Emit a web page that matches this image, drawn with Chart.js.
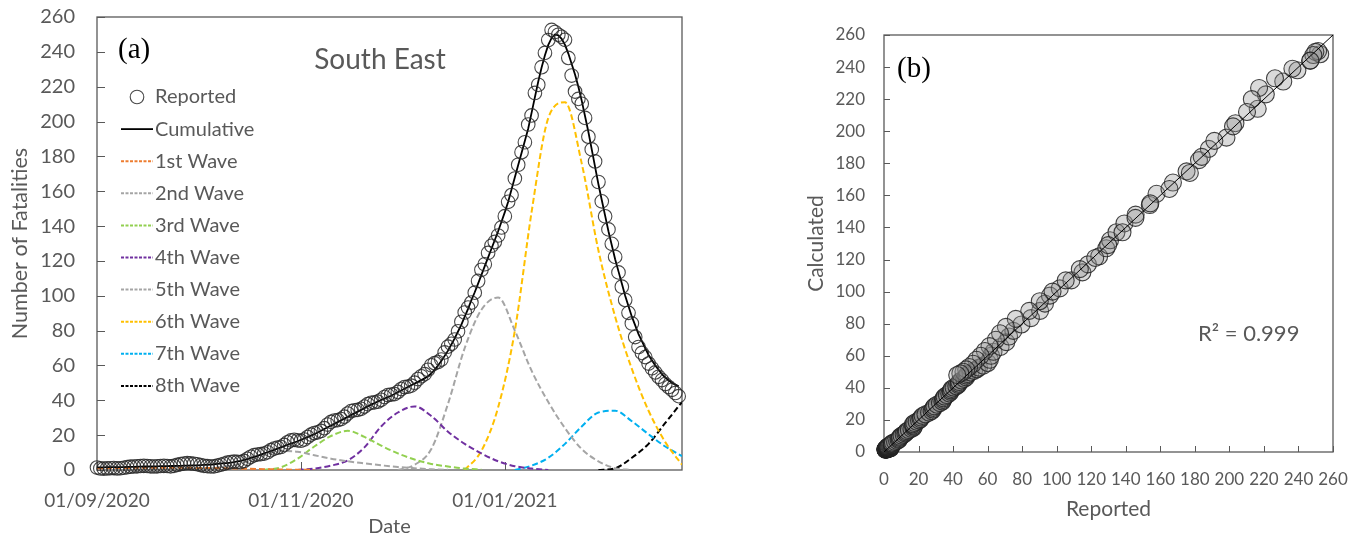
<!DOCTYPE html>
<html>
<head>
<meta charset="utf-8">
<script src="https://cdn.jsdelivr.net/npm/chart.js@4.4.1/dist/chart.umd.min.js"></script>
<style>
  html, body { margin: 0; padding: 0; background: #fff; }
  #wrapA { position: absolute; left: 0; top: 0; }
  #wrapB { position: absolute; left: 770px; top: 0; }
</style>
</head>
<body>
<div id="wrapA"><canvas id="fitChart" width="700" height="540"></canvas></div>
<div id="wrapB"><canvas id="corrChart" width="592" height="540"></canvas></div>
<script>
// x axis of (a): days since 01/09/2020
const dateTickDays = [0, 61, 122]
const dateTickLabels = ["01/09/2020", "01/11/2020", "01/01/2021"]

// daily reported fatalities (one value per day from 01/09/2020)
const reported = [
  1.4, 0.9, 0.8, 0.9, 1.0, 1.1, 0.9, 1.0, 1.3, 1.6,
  1.9, 2.0, 2.1, 2.3, 2.4, 2.3, 2.1, 2.0, 2.1, 2.3,
  2.4, 2.3, 2.1, 2.4, 2.9, 3.4, 3.7, 3.9, 3.8, 3.6,
  3.3, 2.8, 2.4, 2.2, 2.0, 2.1, 2.5, 3.0, 3.6, 4.2,
  4.6, 4.8, 4.7, 4.6, 5.2, 6.4, 7.6, 8.5, 8.9, 9.1,
  9.4, 10.2, 11.4, 12.3, 12.8, 13.2, 14.4, 15.9, 17.0, 17.3,
  17.0, 16.8, 17.5, 18.9, 20.3, 21.2, 21.6, 22.4, 24.0, 26.1,
  27.6, 28.4, 28.6, 29.2, 30.6, 32.4, 33.8, 34.3, 34.5, 35.1,
  36.4, 37.8, 38.6, 38.8, 39.2, 40.3, 41.9, 43.0, 43.3, 43.6,
  44.8, 46.5, 47.6, 47.8, 48.4, 50.1, 52.2, 53.8, 55.0, 57.5,
  60.1, 61.3, 62.0, 63.4, 67.5, 70.8, 72.4, 74.9, 79.6, 85.1,
  90.4, 93.2, 96.1, 101.8, 108.5, 114.9, 118.1, 124.6, 128.7, 130.9,
  134.6, 139.2, 145.7, 153.9, 157.8, 167.3, 175.2, 182.4, 188.1, 198.3,
  203.5, 216.4, 221.1, 231.2, 239.4, 246.8, 252.6, 251.4, 249.8, 248.6,
  246.9, 236.5, 226.4, 217.2, 213.0, 210.2, 202.1, 191.3, 184.0, 177.1,
  165.3, 154.2, 145.6, 138.1, 129.8, 122.3, 113.4, 105.2, 97.6, 90.2,
  84.1, 76.3, 70.6, 67.2, 64.8, 61.1, 58.4, 56.0, 53.5, 51.6,
  49.3, 47.6, 46.0, 44.2, 42.4,
]

// model total (sum of waves), same days
const cumulative = [
  1.5, 1.5, 1.5, 1.6, 1.6, 1.6, 1.7, 1.7, 1.7, 1.8,
  1.8, 1.8, 1.9, 1.9, 2.0, 2.0, 2.0, 2.1, 2.1, 2.2,
  2.2, 2.2, 2.3, 2.3, 2.4, 2.4, 2.5, 2.5, 2.6, 2.6,
  2.7, 2.8, 2.9, 3.0, 3.1, 3.3, 3.5, 3.7, 3.9, 4.0,
  4.2, 4.5, 4.9, 5.3, 5.8, 6.3, 6.9, 7.5, 8.1, 8.8,
  9.5, 10.2, 10.9, 11.6, 12.3, 13.0, 13.7, 14.4, 15.1, 15.8,
  16.5, 17.3, 18.1, 18.9, 19.7, 20.5, 21.5, 22.5, 23.5, 24.5,
  25.5, 26.5, 27.5, 28.5, 29.5, 30.5, 31.5, 32.5, 33.5, 34.5,
  35.5, 36.5, 37.5, 38.4, 39.3, 40.2, 41.0, 41.8, 42.6, 43.6,
  44.6, 45.6, 46.6, 47.6, 48.6, 49.6, 50.6, 51.6, 52.6, 53.8,
  55.5, 57.5, 60.0, 62.5, 65.5, 68.5, 72.0, 75.5, 79.5, 83.5,
  88.0, 92.5, 97.5, 102.0, 107.0, 112.0, 117.0, 122.0, 127.0, 132.0,
  137.0, 142.5, 148.0, 154.0, 161.0, 168.0, 175.0, 182.0, 189.0, 196.0,
  205.0, 214.0, 223.0, 231.0, 238.0, 244.0, 248.0, 250.0, 249.5, 247.5,
  244.0, 239.0, 233.0, 227.0, 220.0, 212.0, 203.0, 194.0, 184.0, 174.0,
  164.0, 155.0, 146.0, 137.0, 129.0, 121.0, 114.0, 107.0, 100.0, 94.0,
  88.0, 83.0, 78.0, 74.0, 70.0, 66.0, 63.0, 60.0, 57.5, 55.0,
  53.0, 51.5, 50.0, 49.0, 48.0,
]

// individual waves, sampled every 5 days from their start day
const waveStep = 5
const wave1Start = 0
const wave1 = [1.0, 1.1, 1.2, 1.3, 1.3, 1.3, 1.2, 1.1, 0.9, 0.7, 0.5, 0.3, 0.15, 0.05]
const wave2Start = 25
const wave2 = [0.3, 0.6, 1.2, 2.5, 5, 8.5, 11, 10.5, 8.5, 6.5, 5, 3.8, 2.7, 1.7, 1, 0.4, 0.1]
const wave3Start = 50
const wave3 = [0, 1.5, 6.5, 13.5, 19.5, 22.5, 19, 14, 9.5, 6, 3.5, 2, 0.8, 0.2]
const wave4Start = 60
const wave4 = [0, 0.8, 2.5, 5.5, 13, 25, 33, 36.5, 31, 22, 15, 9.5, 5, 2.2, 0.8, 0]
const wave5Start = 90
const wave5 = [0, 3, 12, 38, 70, 92, 99, 80, 57, 39, 24, 12, 5, 1, 0]
const wave6Start = 110
const wave6 = [0, 11, 36, 80, 148, 202, 211, 176, 126, 88, 58, 34, 16, 3]
const wave7Start = 125
const wave7 = [0, 2.5, 7, 15, 25, 33, 34, 28, 20.5, 13.5, 8]
const wave8Start = 150
const wave8 = [0, 1, 7, 15, 27, 39]

// (b) reference line y = x
const fitLine = [0, 260]

const FONT = "Lato, 'Open Sans', sans-serif"
const INK = "#595959"

// box round the plot + small ticks pointing inwards
const framePlugin = (tick) => ({
  id: "frame",
  beforeDatasetsDraw(chart) {
    const { ctx, chartArea: a, scales } = chart
    ctx.save()
    ctx.strokeStyle = INK
    ctx.lineWidth = 1.3
    ctx.strokeRect(a.left, a.top, a.right - a.left, a.bottom - a.top)
    ctx.lineWidth = 1
    ctx.beginPath()
    scales.y.ticks.forEach((t) => {
      const y = Math.round(scales.y.getPixelForValue(t.value)) + 0.5
      ctx.moveTo(a.left, y)
      ctx.lineTo(a.left + tick, y)
    })
    scales.x.ticks.forEach((t) => {
      const x = Math.round(scales.x.getPixelForValue(t.value)) + 0.5
      ctx.moveTo(x, a.bottom)
      ctx.lineTo(x, a.bottom - tick)
    })
    ctx.stroke()
    ctx.restore()
  },
})

// free text inside the plot area
const notesPlugin = (items) => ({
  id: "notes",
  afterDraw(chart) {
    const { ctx, chartArea: a } = chart
    ctx.save()
    ctx.textBaseline = "middle"
    items.forEach((n) => {
      ctx.font = n.font
      ctx.fillStyle = n.color
      ctx.textAlign = n.align || "left"
      ctx.fillText(n.text, a.left + n.dx, a.top + n.dy)
    })
    ctx.restore()
  },
})

// legend drawn inside the plot, using each dataset's own style
const insetLegend = (pos) => ({
  id: "insetLegend",
  afterDraw(chart) {
    const { ctx, chartArea: a } = chart
    ctx.save()
    ctx.font = "20px " + FONT
    ctx.textBaseline = "middle"
    chart.data.datasets.forEach((ds, i) => {
      const y = a.top + pos.top + i * pos.row
      const x0 = a.left + pos.left
      ctx.strokeStyle = ds.borderColor
      if (ds.showLine === false) {
        ctx.lineWidth = ds.pointBorderWidth
        ctx.setLineDash([])
        ctx.beginPath()
        ctx.arc(x0 + pos.len / 2, y, ds.pointRadius, 0, Math.PI * 2)
        ctx.stroke()
      } else {
        ctx.lineWidth = ds.borderWidth
        ctx.setLineDash(ds.borderDash ? [3, 1.5] : [])
        ctx.beginPath()
        ctx.moveTo(x0, y)
        ctx.lineTo(x0 + pos.len, y)
        ctx.stroke()
      }
      ctx.setLineDash([])
      ctx.fillStyle = INK
      ctx.fillText(ds.label, x0 + pos.len + 2, y)
    })
    ctx.restore()
  },
})

document.addEventListener("DOMContentLoaded", () => {
  Chart.defaults.font.family = FONT
  Chart.defaults.color = INK

  const waves = [
    { label: "1st Wave", start: wave1Start, values: wave1, color: "#ED7D31" },
    { label: "2nd Wave", start: wave2Start, values: wave2, color: "#A5A5A5" },
    { label: "3rd Wave", start: wave3Start, values: wave3, color: "#92D050" },
    { label: "4th Wave", start: wave4Start, values: wave4, color: "#7030A0" },
    { label: "5th Wave", start: wave5Start, values: wave5, color: "#A5A5A5" },
    { label: "6th Wave", start: wave6Start, values: wave6, color: "#FFC000" },
    { label: "7th Wave", start: wave7Start, values: wave7, color: "#00B0F0" },
    { label: "8th Wave", start: wave8Start, values: wave8, color: "#000000" },
  ]

  // (a) fit of daily fatalities
  new Chart(document.getElementById("fitChart"), {
    type: "line",
    data: {
      datasets: [
        {
          label: "Reported",
          data: reported.map((v, i) => ({ x: i, y: v })),
          showLine: false,
          borderColor: "rgba(40, 40, 40, 0.85)",
          backgroundColor: "rgba(0, 0, 0, 0)",
          pointBackgroundColor: "rgba(0, 0, 0, 0)",
          pointRadius: 6.8,
          pointBorderWidth: 1.1,
          clip: false,
        },
        {
          label: "Cumulative",
          data: cumulative.map((v, i) => ({ x: i, y: v })),
          borderColor: "#000000",
          borderWidth: 1.8,
          pointRadius: 0,
        },
        ...waves.map((w) => ({
          label: w.label,
          data: w.values.map((v, k) => ({ x: w.start + waveStep * k, y: v })),
          borderColor: w.color,
          borderWidth: 2,
          borderDash: [6, 3],
          pointRadius: 0,
          cubicInterpolationMode: "monotone",
        })),
      ],
    },
    options: {
      responsive: false,
      animation: false,
      devicePixelRatio: 1,
      layout: { padding: { top: 17, right: 18, left: 0, bottom: 0 } },
      plugins: { legend: { display: false }, tooltip: { enabled: false } },
      scales: {
        x: {
          type: "linear",
          min: 0,
          max: 175,
          afterBuildTicks: (s) => {
            s.ticks = dateTickDays.map((v) => ({ value: v }))
          },
          ticks: {
            callback: (v) => dateTickLabels[dateTickDays.indexOf(v)],
            font: { size: 19 },
            padding: 4,
            maxRotation: 0,
            autoSkip: false,
          },
          grid: { display: false, drawTicks: true, tickLength: 15 },
          border: { display: false },
          title: { display: true, text: "Date", font: { size: 20 }, padding: { top: 0, bottom: 1 } },
          afterFit: (s) => {
            s.height = 70
          },
        },
        y: {
          min: 0,
          max: 260,
          ticks: { stepSize: 20, font: { size: 20 }, padding: 4 },
          grid: { display: false, drawTicks: true, tickLength: 18 },
          border: { display: false },
          title: { display: true, text: "Number of Fatalities", font: { size: 21.5 }, padding: { top: 7, bottom: 0 } },
          afterFit: (s) => {
            s.width = 97
          },
        },
      },
    },
    plugins: [
      framePlugin(8),
      insetLegend({ left: 24, top: 80, row: 32.1, len: 32 }),
      notesPlugin([
        { text: "(a)", dx: 21, dy: 33, font: "29px 'Liberation Serif', 'Times New Roman', serif", color: "#000000" },
        { text: "South East", dx: 283, dy: 43, font: "28px " + FONT, color: INK, align: "center" },
      ]),
    ],
  })

  // (b) calculated against reported
  new Chart(document.getElementById("corrChart"), {
    type: "scatter",
    data: {
      datasets: [
        {
          type: "line",
          label: "y = x",
          data: fitLine.map((v) => ({ x: v, y: v })),
          borderColor: "#000000",
          borderWidth: 1,
          pointRadius: 0,
        },
        {
          label: "Calculated",
          data: reported.map((v, i) => ({ x: v, y: cumulative[i] })),
          backgroundColor: "rgba(140, 140, 140, 0.32)",
          borderColor: "rgba(35, 35, 35, 0.85)",
          borderWidth: 1.1,
          pointRadius: 8.5,
          clip: false,
        },
      ],
    },
    options: {
      responsive: false,
      animation: false,
      devicePixelRatio: 1,
      layout: { padding: { top: 35, right: 29, left: 0, bottom: 0 } },
      plugins: { legend: { display: false }, tooltip: { enabled: false } },
      scales: {
        x: {
          type: "linear",
          min: 0,
          max: 260,
          ticks: { stepSize: 20, font: { size: 17 }, padding: 4, maxRotation: 0, autoSkip: false },
          grid: { display: false, drawTicks: true, tickLength: 13 },
          border: { display: false },
          title: { display: true, text: "Reported", font: { size: 21 }, padding: { top: 0, bottom: 18 } },
          afterFit: (s) => {
            s.height = 88
          },
        },
        y: {
          min: 0,
          max: 260,
          ticks: { stepSize: 20, font: { size: 17 }, padding: 4 },
          grid: { display: false, drawTicks: true, tickLength: 15 },
          border: { display: false },
          title: { display: true, text: "Calculated", font: { size: 21 }, padding: { top: 34, bottom: 0 } },
          afterFit: (s) => {
            s.width = 114
          },
        },
      },
    },
    plugins: [
      framePlugin(6),
      notesPlugin([
        { text: "(b)", dx: 13, dy: 34, font: "29px 'Liberation Serif', 'Times New Roman', serif", color: "#000000" },
        { text: "R² = 0.999", dx: 314, dy: 299, font: "22px " + FONT, color: INK },
      ]),
    ],
  })
})
</script>
</body>
</html>
